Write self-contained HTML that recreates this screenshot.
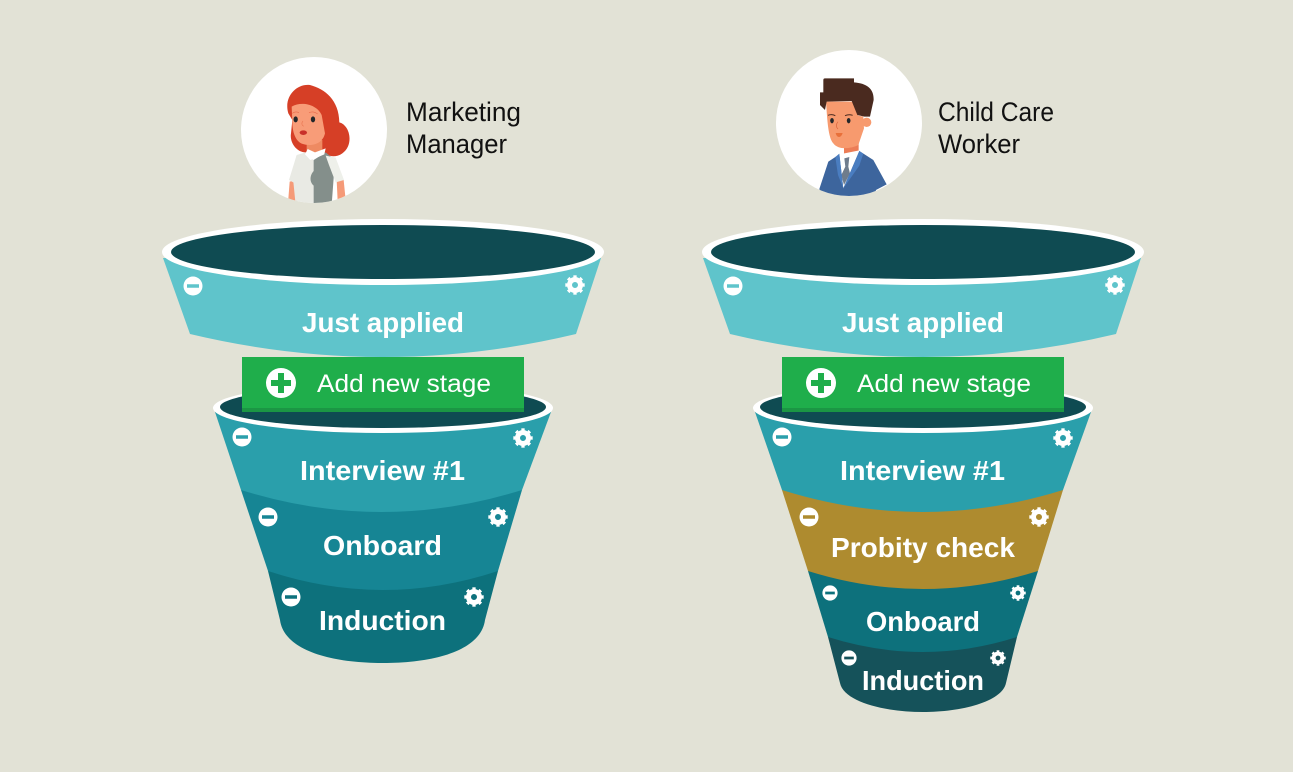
<!DOCTYPE html>
<html><head><meta charset="utf-8"><style>
html,body{margin:0;padding:0;background:#e2e2d6}
svg{display:block}
.l{font-family:"Liberation Sans",sans-serif;font-weight:700;fill:#fff;font-size:28px}
.a{font-family:"Liberation Sans",sans-serif;fill:#fff;font-size:25px}
.n{font-family:"Liberation Sans",sans-serif;fill:#111;font-size:27px}
</style></head><body>
<svg width="1293" height="772" viewBox="0 0 1293 772" xmlns="http://www.w3.org/2000/svg">
<defs>
<symbol id="minus" viewBox="-10 -10 20 20" overflow="visible"><path fill="#fff" fill-rule="evenodd" d="M-9.5 0A9.500 9.500 0 1 0 9.500 0A9.500 9.500 0 1 0 -9.500 0ZM-6 -1.700H6V1.700H-6Z"/></symbol>
<symbol id="gear" viewBox="-10 -10 20 20" overflow="visible"><circle r="5.500" fill="none" stroke="#fff" stroke-width="5"/><circle r="8" fill="none" stroke="#fff" stroke-width="3.400" pathLength="16" stroke-dasharray="1 1" stroke-dashoffset=".5"/></symbol>
<symbol id="plus" viewBox="-15 -15 30 30" overflow="visible"><path fill="#fff" fill-rule="evenodd" d="M-15 0A15 15 0 1 0 15 0A15 15 0 1 0 -15 0ZM-3 -10H3V-3H10V3H3V10H-3V3H-10V-3H-3Z"/></symbol>
<clipPath id="c1"><circle cx="314" cy="130" r="73"/></clipPath>
<clipPath id="c2"><circle cx="849" cy="123" r="73"/></clipPath>
</defs>
<rect width="1293" height="772" fill="#e2e2d6"/>

<!-- Woman -->
<circle cx="314" cy="130" r="73" fill="#fff"/>
<g clip-path="url(#c1)"><g transform="translate(235,65) scale(.3333)">
<path fill="#f59a78" d="M164 350L182 345L186 408L160 402Z"/>
<path fill="#f59a78" d="M305 345L326 345L332 405L308 408Z"/>
<path fill="#d63f26" d="M160 145C145 95 185 55 225 60C270 72 312 105 313 172C345 180 358 240 322 265C298 282 270 272 260 255L215 262C188 265 163 235 168 205L172 165Z"/>
<rect x="215" y="225" width="47" height="42" fill="#ee8a62"/>
<path fill="#f89c78" d="M170 125C200 108 245 118 260 150L270 205C262 240 225 245 200 236C180 226 172 200 172 170Z"/>
<ellipse cx="182" cy="163" rx="6.500" ry="9" fill="#23272a"/>
<ellipse cx="234" cy="163" rx="6.500" ry="9" fill="#23272a"/>
<path d="M172 145Q180 138 192 143M222 143Q235 137 248 147" stroke="#e8694a" stroke-width="2" fill="none"/>
<path d="M204 168Q196 178 206 184" stroke="#ea7a56" stroke-width="2" fill="none"/>
<ellipse cx="205" cy="203" rx="11" ry="7" fill="#c8302a"/>
<path fill="#e9eae4" d="M185 270L212 262L240 290L236 420H182L175 350L165 345Z"/>
<path fill="#848f8b" d="M236 285L272 262L300 285L290 420H236V362C222 350 225 330 236 318Z"/>
<path fill="#eef0ea" d="M272 272L302 278L327 345L302 352L282 300Z"/>
<path fill="#e9eae4" d="M185 270L162 345L180 355L195 300Z"/>
<path fill="#fff" d="M218 252L210 268L226 285L240 280L268 268L272 250L240 262Z"/>
</g></g>

<!-- Man -->
<circle cx="849" cy="123" r="73" fill="#fff"/>
<g clip-path="url(#c2)"><g transform="translate(770,45) scale(.3333)">
<rect x="222" y="285" width="44" height="48" fill="#ec7d56"/>
<path fill="#fff" d="M208 328L268 316L272 350L222 425Z"/>
<path fill="#6f7c8c" d="M223 340L238 336L235 365L240 385L222 420L214 390L226 365Z"/>
<path fill="#3d659d" d="M148 432L175 350L208 328L220 430L268 318L310 345L350 418L318 435L310 470H160Z"/>
<path fill="#4a7dc0" d="M196 336L208 326L220 430L204 390ZM268 318L280 326L268 362L220 430Z"/>
<circle cx="290" cy="232" r="14" fill="#f79a6e"/>
<path fill="#f79a6e" d="M168 170L248 170L265 212L280 215L282 250L265 300C240 312 205 315 190 295C175 280 172 230 168 170Z"/>
<path fill="#4a2a1f" d="M160 105Q160 100 165 100L252 100L252 112C290 115 312 130 311 165L300 215L283 215L262 210L245 168L170 170L165 195L150 180L150 142L160 142Z"/>
<ellipse cx="186" cy="227" rx="5.500" ry="8" fill="#23272a"/>
<ellipse cx="236" cy="227" rx="5.500" ry="8" fill="#23272a"/>
<path d="M174 211Q185 206 196 212M225 212Q236 207 248 211" stroke="#4a2a1f" stroke-width="3" fill="none"/>
<path d="M204 230Q194 242 204 252" stroke="#d8643c" stroke-width="2" fill="none"/>
<path fill="#e8703a" d="M197 264H218Q214 276 207 276Q200 276 197 264Z"/>
</g></g>

<text class="n" x="406" y="121" textLength="115" lengthAdjust="spacingAndGlyphs">Marketing</text>
<text class="n" x="406" y="153" textLength="101" lengthAdjust="spacingAndGlyphs">Manager</text>
<text class="n" x="938" y="121" textLength="116" lengthAdjust="spacingAndGlyphs">Child Care</text>
<text class="n" x="938" y="153" textLength="82" lengthAdjust="spacingAndGlyphs">Worker</text>

<!-- LEFT FUNNEL -->
<g>
<path fill="#5fc4cb" d="M163 258L601 258L576 334Q383 380 190 334Z"/>
<ellipse cx="383" cy="252" rx="221" ry="33" fill="#fff"/>
<ellipse cx="383" cy="252" rx="212" ry="27" fill="#0f4b52"/>
<text class="l" x="302" y="332" textLength="162" lengthAdjust="spacingAndGlyphs">Just applied</text>
<path fill="#0d717c" d="M268 571L268 550L498 550L498 571L485 620C481 650 436 663 383 663C330 663 284 650 280 620Z"/>
<path fill="#168594" d="M241 490L241 470L522 470L522 490L498 571Q383 609 268 571Z"/>
<path fill="#2a9fab" d="M215 412L551 412L522 490Q381.500 534 241 490Z"/>
<ellipse cx="383" cy="408" rx="170" ry="25" fill="#fff"/>
<ellipse cx="383" cy="407" rx="163" ry="21" fill="#0f4b52"/>
<text class="l" x="300" y="480" textLength="165" lengthAdjust="spacingAndGlyphs">Interview #1</text>
<text class="l" x="323" y="555" textLength="119" lengthAdjust="spacingAndGlyphs">Onboard</text>
<text class="l" x="319" y="630" textLength="127" lengthAdjust="spacingAndGlyphs">Induction</text>
<rect x="242" y="357" width="282" height="55" fill="#1fae4b"/>
<rect x="242" y="408" width="282" height="4" fill="#1b9644"/>
<use href="#plus" x="266" y="368" width="30" height="30"/>
<text class="a" x="317" y="392" textLength="174" lengthAdjust="spacingAndGlyphs">Add new stage</text>
<use href="#minus" x="183" y="276" width="20" height="20"/>
<use href="#gear" x="565" y="275" width="20" height="20"/>
<use href="#minus" x="232" y="427" width="20" height="20"/>
<use href="#gear" x="513" y="428" width="20" height="20"/>
<use href="#minus" x="258" y="507" width="20" height="20"/>
<use href="#gear" x="488" y="507" width="20" height="20"/>
<use href="#minus" x="281" y="587" width="20" height="20"/>
<use href="#gear" x="464" y="587" width="20" height="20"/>
</g>

<!-- RIGHT FUNNEL -->
<g>
<path fill="#5fc4cb" d="M703 258L1141 258L1116 334Q923 380 730 334Z"/>
<ellipse cx="923" cy="252" rx="221" ry="33" fill="#fff"/>
<ellipse cx="923" cy="252" rx="212" ry="27" fill="#0f4b52"/>
<text class="l" x="842" y="332" textLength="162" lengthAdjust="spacingAndGlyphs">Just applied</text>
<path fill="#15525a" d="M828 637L828 620L1017 620L1017 637L1006 683C1002 702 961 712 923 712C885 712 844 702 840 683Z"/>
<path fill="#0d717c" d="M808 571L808 550L1038 550L1038 571L1017 637Q923 667 828 637Z"/>
<path fill="#ae8b2f" d="M782 490L782 470L1063 470L1063 490L1038 571Q923 607 808 571Z"/>
<path fill="#2a9fab" d="M755 412L1091 412L1063 490Q922 534 782 490Z"/>
<ellipse cx="923" cy="408" rx="170" ry="25" fill="#fff"/>
<ellipse cx="923" cy="407" rx="163" ry="21" fill="#0f4b52"/>
<text class="l" x="840" y="480" textLength="165" lengthAdjust="spacingAndGlyphs">Interview #1</text>
<text class="l" x="831" y="557" textLength="184" lengthAdjust="spacingAndGlyphs">Probity check</text>
<text class="l" x="866" y="631" textLength="114" lengthAdjust="spacingAndGlyphs">Onboard</text>
<text class="l" x="862" y="690" textLength="122" lengthAdjust="spacingAndGlyphs">Induction</text>
<rect x="782" y="357" width="282" height="55" fill="#1fae4b"/>
<rect x="782" y="408" width="282" height="4" fill="#1b9644"/>
<use href="#plus" x="806" y="368" width="30" height="30"/>
<text class="a" x="857" y="392" textLength="174" lengthAdjust="spacingAndGlyphs">Add new stage</text>
<use href="#minus" x="723" y="276" width="20" height="20"/>
<use href="#gear" x="1105" y="275" width="20" height="20"/>
<use href="#minus" x="772" y="427" width="20" height="20"/>
<use href="#gear" x="1053" y="428" width="20" height="20"/>
<use href="#minus" x="799" y="507" width="20" height="20"/>
<use href="#gear" x="1029" y="507" width="20" height="20"/>
<use href="#minus" x="822" y="585" width="16" height="16"/>
<use href="#gear" x="1010" y="585" width="16" height="16"/>
<use href="#minus" x="841" y="650" width="16" height="16"/>
<use href="#gear" x="990" y="650" width="16" height="16"/>
</g>
</svg>
</body></html>
